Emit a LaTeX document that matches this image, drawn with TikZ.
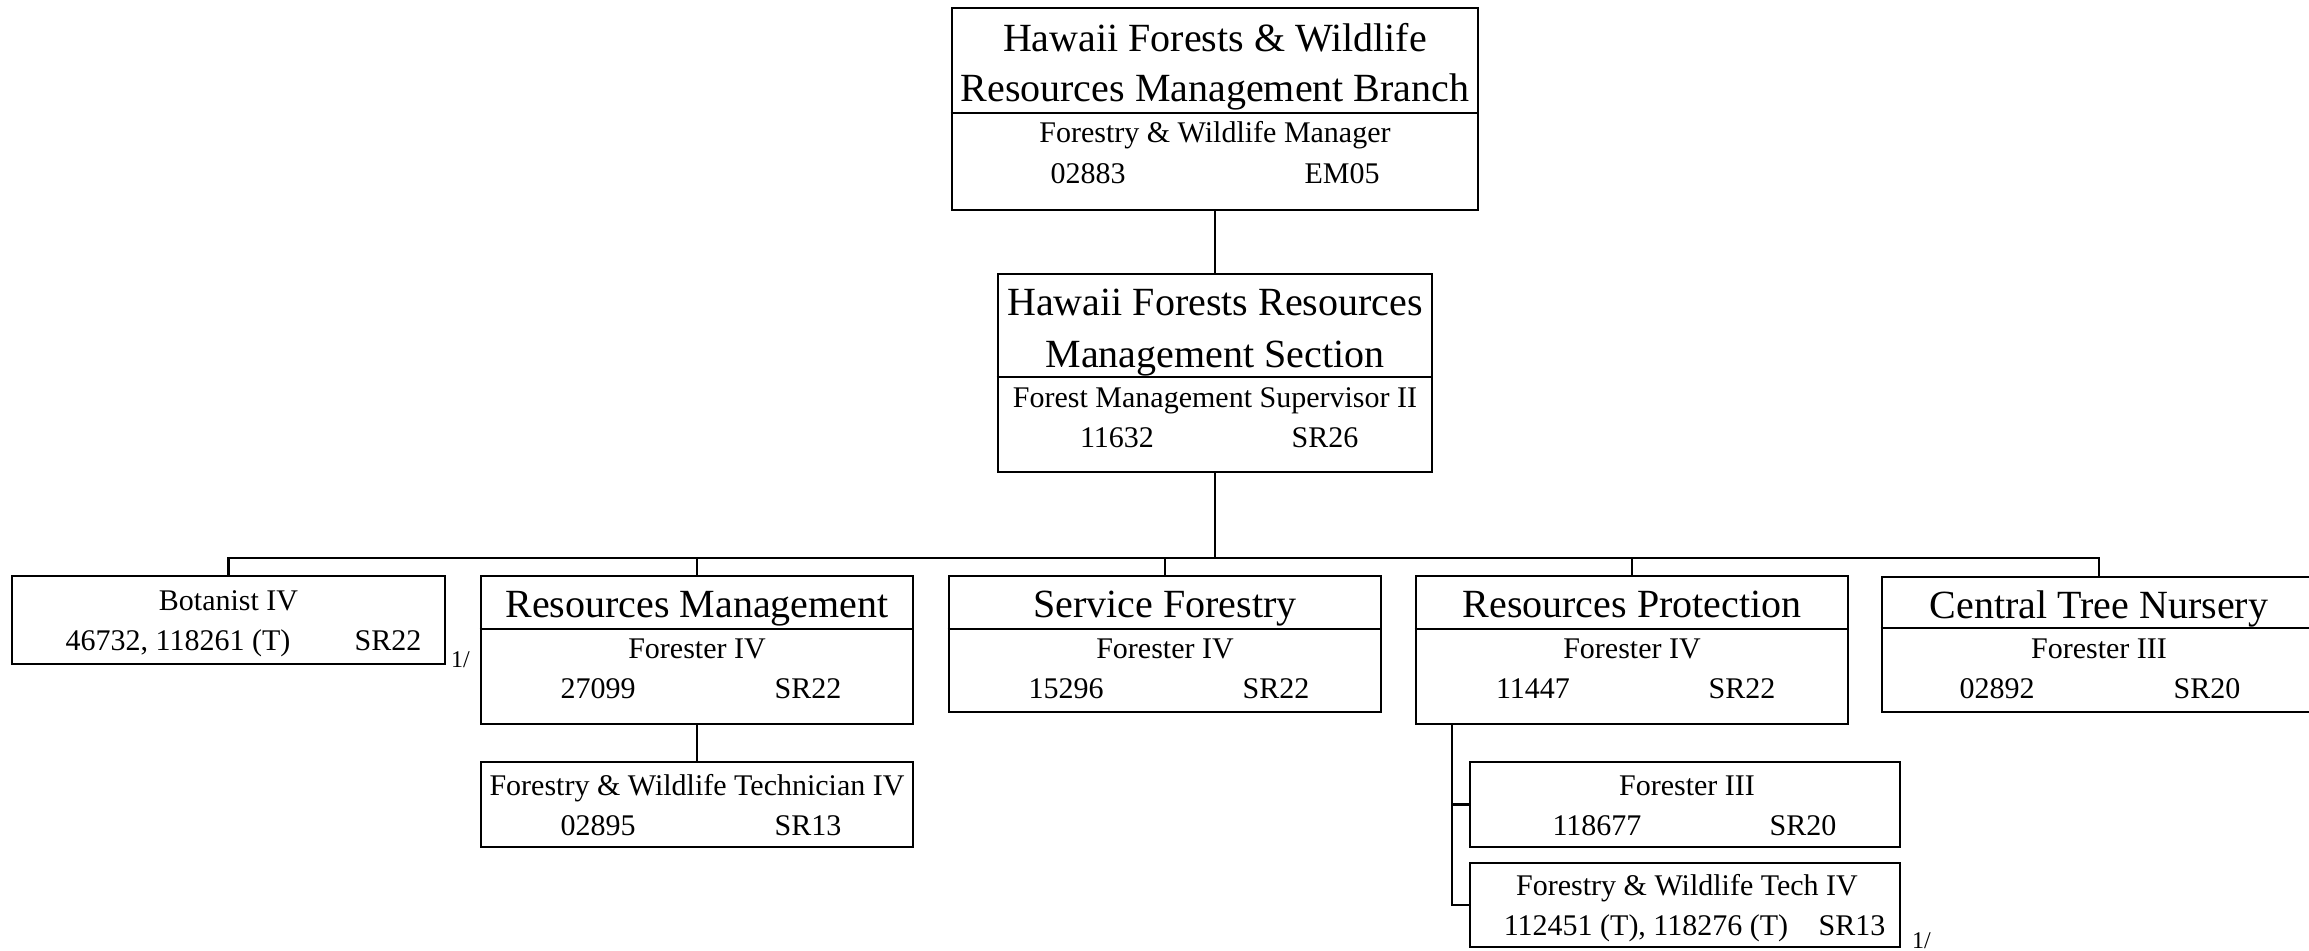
\documentclass[tikz,border=0pt]{standalone}
\usepackage{fontspec}
\setmainfont{Liberation Serif}
\begin{document}
\begin{tikzpicture}[x=1pt,y=-1pt,
  box/.style={draw, line width=2.6pt, rectangle, inner sep=0pt},
  conn/.style={line width=2.6pt, line join=miter},
  divl/.style={line width=1.6pt},
  big/.style={font=\fontsize{40}{48}\selectfont, inner sep=0pt, anchor=base},
  small/.style={font=\fontsize{30}{36}\selectfont, inner sep=0pt, anchor=base},
  note/.style={font=\fontsize{24}{28}\selectfont, inner sep=0pt, anchor=base west}]
\useasboundingbox (0,0) rectangle (2309,950);
\clip (0,0) rectangle (2309,950);
\fill[white] (0,0) rectangle (2309,950);

% ---------- top box ----------
\node[box, minimum width=526pt, minimum height=202pt] (top) at (1215,109) {};
\draw[divl] (top.west |- 0,113) -- (top.east |- 0,113);
\node[big] (top1) at (1215,52) {Hawaii Forests \& Wildlife};
\node[big] (top2) at (1215,101) {Resources Management Branch};
\node[small] (top3) at (1215,142) {Forestry \& Wildlife Manager};
\node[small] (top4) at (1088,183) {02883};
\node[small] (top5) at (1342,183) {EM05};

% ---------- section box ----------
\node[box, minimum width=434pt, minimum height=198pt] (sec) at (1215,373) {};
\draw[divl] (sec.west |- 0,377) -- (sec.east |- 0,377);
\node[big] (sec1) at (1215,315) {Hawaii Forests Resources};
\node[big] (sec2) at (1215,367) {Management Section};
\node[small] (sec3) at (1215,407) {Forest Management Supervisor II};
\node[small] (sec4) at (1117,447) {11632};
\node[small] (sec5) at (1325,447) {SR26};

% ---------- botanist ----------
\node[box, minimum width=433pt, minimum height=88pt] (bot) at (228.5,620) {};
\node[small] (bot1) at (228.5,610) {Botanist IV};
\node[small] (bot2) at (178,650) {46732, 118261 (T)};
\node[small] (bot3) at (388,650) {SR22};
\node[note] (bot4) at (451,667) {1/};

% ---------- resources management ----------
\node[box, minimum width=432pt, minimum height=148pt] (rm) at (697,650) {};
\draw[divl] (rm.west |- 0,629) -- (rm.east |- 0,629);
\node[big] (rm1) at (697,617) {Resources Management};
\node[small] (rm2) at (697,658) {Forester IV};
\node[small] (rm3) at (598,698) {27099};
\node[small] (rm4) at (808,698) {SR22};

\node[box, minimum width=432pt, minimum height=85pt] (fwt) at (697,804.5) {};
\node[small] (fwt1) at (697,795) {Forestry \& Wildlife Technician IV};
\node[small] (fwt2) at (598,835) {02895};
\node[small] (fwt3) at (808,835) {SR13};

% ---------- service forestry ----------
\node[box, minimum width=432pt, minimum height=136pt] (sf) at (1165,644) {};
\draw[divl] (sf.west |- 0,629) -- (sf.east |- 0,629);
\node[big] (sf1) at (1165,617) {Service Forestry};
\node[small] (sf2) at (1165,658) {Forester IV};
\node[small] (sf3) at (1066,698) {15296};
\node[small] (sf4) at (1276,698) {SR22};

% ---------- resources protection ----------
\node[box, minimum width=432pt, minimum height=148pt] (rp) at (1632,650) {};
\draw[divl] (rp.west |- 0,629) -- (rp.east |- 0,629);
\node[big] (rp1) at (1632,617) {Resources Protection};
\node[small] (rp2) at (1632,658) {Forester IV};
\node[small] (rp3) at (1533,698) {11447};
\node[small] (rp4) at (1742,698) {SR22};

\node[box, minimum width=430pt, minimum height=85pt] (f3) at (1685,804.5) {};
\node[small] (f31) at (1687,795) {Forester III};
\node[small] (f32) at (1597,835) {118677};
\node[small] (f33) at (1803,835) {SR20};

\node[box, minimum width=430pt, minimum height=84pt] (fwt4) at (1685,905) {};
\node[small] (fwt41) at (1687,895) {Forestry \& Wildlife Tech IV};
\node[small] (fwt42) at (1646,935) {112451 (T), 118276 (T)};
\node[small] (fwt43) at (1852,935) {SR13};
\node[note] (fwt44) at (1912,948) {1/};

% ---------- central tree nursery ----------
\node[box, minimum width=434pt, minimum height=135pt] (ctn) at (2099,644.5) {};
\draw[divl] (ctn.west |- 0,628) -- (ctn.east |- 0,628);
\node[big] (ctn1) at (2099,618) {Central Tree Nursery};
\node[small] (ctn2) at (2099,658) {Forester III};
\node[small] (ctn3) at (1997,698) {02892};
\node[small] (ctn4) at (2207,698) {SR20};

% ---------- connectors ----------
\coordinate (bus) at (1215,558);
\coordinate (spine) at (1452,724);
\draw[conn] (top.south) -- (sec.north);
\draw[conn] (sec.south) -- (bus);
\draw[conn] (bot.north) -- (bot.north |- bus) -- (ctn.north |- bus) -- (ctn.north);
\draw[conn] (rm.north |- bus) -- (rm.north);
\draw[conn] (sf.north |- bus) -- (sf.north);
\draw[conn] (rp.north |- bus) -- (rp.north);
\draw[conn] (rm.south) -- (fwt.north);
\draw[conn] (spine) -- (spine |- fwt4.west) -- (fwt4.west);
\draw[conn] (spine |- f3.west) -- (f3.west);
\end{tikzpicture}
\end{document}
